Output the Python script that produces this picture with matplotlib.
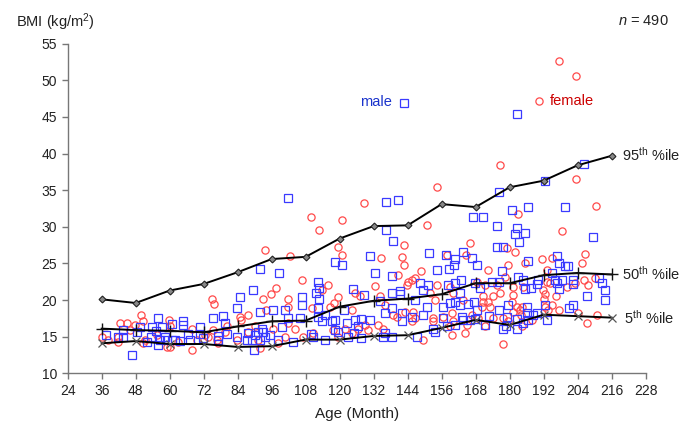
import matplotlib
matplotlib.use("Agg")
import matplotlib.pyplot as plt

plt.rcParams['font.family'] = ['Liberation Sans', 'DejaVu Sans']
plt.rcParams['mathtext.fontset'] = 'custom'
plt.rcParams['mathtext.rm'] = 'Liberation Sans'
plt.rcParams['mathtext.it'] = 'Liberation Sans:italic'

# percentile curves (age in months)
pct_age = [36, 48, 60, 72, 84, 96, 108, 120, 132, 144, 156, 168, 180, 192, 204, 216]
p95 = [20.1, 19.6, 21.3, 22.2, 23.8, 25.6, 25.9, 28.4, 30.1, 30.2, 33.1, 32.7, 35.4, 36.3, 38.4, 39.7]
p50 = [16.1, 15.9, 15.8, 15.6, 16.4, 17.1, 17.2, 19.1, 19.9, 20.2, 20.8, 22.3, 22.3, 23.4, 23.7, 23.5]
p5 = [14.1, 14.4, 14.0, 14.0, 13.6, 13.7, 14.6, 14.6, 15.1, 15.2, 16.2, 17.3, 16.6, 18.0, 17.8, 17.6]

female = [
    (74.8, 20.1), (75.6, 19.4), (49.8, 18.0), (50.7, 17.1), (42.5, 16.8), (44.8, 16.8), (47.8, 16.6),
    (59.8, 17.3), (60.1, 16.5), (67.8, 16.1), (67.8, 13.2), (36.0, 15.0), (38.3, 14.5), (41.6, 14.3),
    (41.9, 15.0), (46.0, 15.9), (50.7, 14.1), (51.3, 14.5), (55.4, 15.2), (59.2, 13.6), (60.1, 13.6),
    (63.0, 14.3), (69.5, 14.5), (73.6, 15.0), (75.4, 15.9), (76.6, 14.5), (76.9, 14.1), (79.5, 15.7),
    (84.8, 17.7), (85.0, 17.3), (83.6, 14.5), (80.1, 16.4), (72.5, 15.2),
    (93.6, 26.9), (119.5, 27.2), (120.7, 26.2), (141.9, 25.9), (134.6, 25.8), (102.5, 26.0), (106.8, 22.8),
    (97.4, 21.7), (95.8, 20.8), (93.1, 20.2), (101.9, 20.1), (101.6, 19.1), (87.8, 18.0), (93.9, 18.7),
    (116.0, 22.1), (113.6, 21.4), (119.5, 20.4), (118.1, 19.6), (116.6, 19.1), (124.2, 18.7), (125.4, 20.9),
    (127.2, 20.5), (132.5, 21.9), (140.7, 23.4), (134.2, 20.5), (136.0, 19.3), (138.9, 18.0), (140.1, 17.7),
    (133.6, 16.6), (135.4, 16.0), (101.9, 16.8), (104.2, 16.1), (100.7, 15.0), (98.3, 14.1), (91.3, 14.5),
    (90.1, 16.4), (96.6, 16.1), (110.7, 15.5), (117.8, 15.9), (121.9, 16.1), (119.5, 15.0), (124.2, 15.5),
    (128.9, 16.6), (126.6, 16.0), (107.2, 15.0), (130.1, 15.9), (110.1, 18.9), (91.9, 13.5), (87.8, 15.7),
    (109.8, 31.3), (154.5, 35.4), (128.7, 33.2), (120.7, 30.9), (112.7, 29.5), (150.7, 30.3),
    (142.7, 27.5), (142.7, 24.8), (166.0, 27.8), (164.6, 26.1), (157.8, 26.2), (148.6, 23.9), (146.6, 23.0),
    (145.4, 22.7), (144.2, 22.5), (143.7, 22.1), (172.5, 24.1), (179.5, 24.8), (181.9, 26.5), (179.0, 27.1),
    (178.4, 23.2), (168.4, 22.5), (171.3, 22.1), (175.4, 22.1), (176.6, 20.9), (174.2, 20.5), (181.3, 21.8),
    (181.3, 20.7), (184.8, 21.8), (154.2, 22.1), (153.7, 20.0), (151.9, 20.9), (158.9, 21.8), (160.1, 20.9),
    (163.7, 20.0), (170.5, 20.5), (170.7, 19.8), (172.5, 19.8), (173.1, 19.0), (170.1, 19.1), (180.7, 19.8),
    (182.5, 19.1), (181.3, 18.4), (183.7, 18.6), (183.9, 18.0), (143.1, 18.4), (146.0, 18.4), (146.6, 17.5),
    (153.1, 17.5), (153.1, 17.1), (156.6, 17.7), (159.5, 18.2), (160.1, 17.1), (166.6, 18.0), (164.8, 16.6),
    (168.9, 17.5), (159.0, 16.4), (159.5, 15.2), (149.5, 14.6), (164.2, 15.5), (171.3, 16.4), (177.5, 14.0),
    (174.2, 17.5), (177.8, 17.5), (179.5, 17.1), (145.4, 17.1),
    (198.4, 29.4), (206.6, 26.3), (205.4, 25.1), (185.4, 25.0), (191.3, 25.6), (194.8, 25.8), (193.1, 24.1),
    (193.1, 22.5), (194.2, 22.3), (200.1, 21.8), (203.1, 22.3), (206.2, 22.7), (207.8, 22.1), (210.1, 23.0),
    (191.9, 21.4), (192.5, 20.8), (192.1, 20.2), (196.4, 20.5), (194.8, 19.3), (192.5, 19.1), (184.2, 19.1),
    (197.5, 18.6), (193.7, 18.7), (204.2, 18.2), (210.7, 18.0), (207.2, 16.8), (184.2, 16.4), (187.8, 17.3),
    (197.5, 52.7), (203.5, 50.6), (176.6, 38.4), (203.4, 36.5), (210.5, 32.8), (183.1, 31.8),
]

male = [
    (84.8, 20.4), (83.6, 18.9), (56.0, 17.6), (60.7, 16.7), (64.8, 17.2), (64.8, 16.6), (75.4, 17.6),
    (78.7, 17.8), (79.5, 16.8), (53.6, 16.3), (49.5, 16.3), (43.6, 15.9), (37.5, 15.2), (41.9, 15.0),
    (43.6, 15.0), (48.3, 15.7), (55.2, 15.8), (57.2, 16.3), (58.3, 15.0), (58.9, 14.5), (56.6, 14.6),
    (51.9, 14.3), (53.4, 15.0), (60.7, 14.5), (61.9, 14.5), (63.6, 14.4), (66.6, 15.3), (67.2, 14.5),
    (70.7, 15.3), (71.9, 14.8), (77.2, 15.1), (77.2, 14.5), (80.1, 15.4), (83.6, 14.9), (87.2, 14.5),
    (46.8, 12.5), (56.0, 13.9), (70.7, 16.3),
    (138.9, 28.0), (130.7, 26.0), (118.4, 25.2), (120.7, 24.8), (91.9, 24.2), (98.7, 23.7), (132.5, 23.7),
    (138.4, 23.3), (112.5, 22.4), (112.7, 21.7), (111.5, 20.9), (89.5, 21.4), (106.8, 20.4), (112.7, 20.1),
    (124.8, 21.5), (128.7, 20.7), (138.4, 21.0), (141.3, 21.2), (141.3, 20.8), (106.8, 19.3), (91.9, 18.4),
    (96.6, 18.6), (100.7, 18.6), (101.9, 17.6), (106.0, 17.6), (112.5, 18.9), (112.2, 17.7), (114.8, 18.0),
    (121.6, 18.6), (113.9, 17.1), (117.2, 17.2), (118.4, 17.3), (122.5, 16.9), (125.4, 17.3), (127.5, 17.4),
    (130.7, 17.3), (134.2, 19.9), (136.0, 18.3), (138.4, 18.9), (141.9, 18.2), (126.6, 16.5), (99.5, 16.3),
    (92.5, 16.1), (87.8, 15.5), (90.1, 15.2), (91.3, 15.6), (93.1, 15.7), (93.6, 15.0), (95.4, 15.2),
    (88.9, 14.5), (91.9, 14.5), (89.9, 13.2), (98.3, 14.5), (103.6, 14.3), (109.9, 15.4), (110.7, 14.9),
    (114.8, 14.5), (118.4, 15.9), (119.5, 15.7), (123.1, 14.9), (127.7, 14.8), (125.2, 15.5), (136.0, 15.5),
    (138.4, 15.0), (135.4, 15.0), (141.9, 17.1),
    (101.7, 33.9), (136.4, 33.4), (140.5, 33.7), (136.4, 29.5), (182.5, 45.4), (176.4, 34.8), (192.5, 36.2),
    (206.4, 38.6), (199.5, 32.7), (186.4, 32.7), (180.7, 32.3), (166.9, 31.3), (170.5, 31.3), (175.4, 30.1),
    (182.5, 29.9),
    (181.9, 29.0), (185.4, 29.1), (183.4, 27.9), (151.7, 26.4), (160.7, 25.6), (160.4, 24.8), (157.5, 26.2),
    (163.4, 26.5), (166.6, 25.7), (168.6, 24.8), (154.5, 24.1), (158.7, 24.2), (175.4, 27.2), (177.5, 27.3),
    (186.6, 25.3), (177.2, 23.9), (183.1, 23.2), (184.8, 22.7), (148.4, 22.3), (151.3, 22.1), (149.5, 21.4),
    (158.4, 22.1), (160.7, 22.3), (162.7, 22.7), (162.5, 20.9), (167.8, 22.3), (169.5, 21.6), (173.7, 22.5),
    (176.4, 22.4), (185.4, 21.5), (146.6, 20.0), (150.7, 19.1), (156.6, 19.1), (159.0, 19.6), (160.7, 19.8),
    (162.5, 19.3), (165.4, 19.5), (168.6, 18.6), (167.4, 19.8), (176.4, 18.7), (179.5, 19.3), (186.0, 19.1),
    (186.0, 18.2), (145.4, 17.7), (149.5, 18.0), (156.6, 17.5), (163.1, 17.7), (163.7, 17.3), (167.8, 17.4),
    (172.8, 17.8), (178.9, 17.7), (182.5, 17.4), (153.1, 16.1), (153.7, 15.7), (157.8, 16.4), (160.7, 16.6),
    (166.0, 17.3), (171.3, 16.6), (177.8, 16.1), (178.7, 16.5), (182.5, 16.0), (184.8, 16.8), (147.4, 15.0),
    (186.6, 17.3),
    (209.5, 28.6), (196.6, 26.0), (197.5, 25.0), (199.5, 24.6), (200.7, 24.7), (194.8, 23.7), (190.1, 22.7),
    (189.5, 22.2), (196.0, 22.7), (198.4, 22.7), (196.6, 22.3), (202.5, 22.8), (202.5, 22.2), (211.6, 23.0),
    (212.5, 22.3), (213.7, 21.4), (213.7, 20.0), (207.2, 20.5), (197.5, 21.5), (187.4, 21.6), (192.5, 19.3),
    (202.2, 19.3), (201.1, 18.9), (188.4, 18.0), (189.5, 18.2), (193.1, 17.3),
]

x_ticks = list(range(24, 229, 12))
y_ticks = list(range(10, 56, 5))

blue = '#3a3aff'
red = '#ff4a4a'

fig = plt.figure(figsize=(6.88, 4.22), dpi=100)
ax = fig.add_axes([0.0984, 0.1154, 0.84, 0.781])

ax.plot([a for a, b in female], [b for a, b in female], 'o', ls='none', ms=5.2,
        mfc='none', mec=red, mew=0.9, zorder=2)
ax.plot([a for a, b in male], [b for a, b in male], 's', ls='none', ms=5.2,
        mfc='none', mec=blue, mew=0.9, zorder=2)

ax.plot(pct_age, p95, '-', color='black', lw=1.4, marker='D', ms=3.5,
        mfc='#888888', mec='#222222', mew=0.8, zorder=3)
ax.plot(pct_age, p50, '-', color='black', lw=1.4, marker='+', ms=8,
        mec='#111111', mew=1.0, zorder=3)
ax.plot(pct_age, p5, '-', color='black', lw=1.4, marker='x', ms=6,
        mec='#555555', mew=0.9, zorder=3)

ax.set_xlim(24, 228)
ax.set_ylim(10, 55)
ax.set_xticks(x_ticks)
ax.set_yticks(y_ticks)
for s in ['top', 'right']:
    ax.spines[s].set_visible(False)
for s in ['left', 'bottom']:
    ax.spines[s].set_color('#777777')
    ax.spines[s].set_linewidth(1.0)
ax.tick_params(direction='out', length=4, width=1, color='#777777',
               labelsize=10, labelcolor='#222222')

ax.set_xlabel('Age (Month)', fontsize=11, color='#222222', labelpad=7)

fig.text(16 / 688, 1 - 22 / 422, 'BMI (kg/m$^2$)', fontsize=10.5, va='center', ha='left', color='#222222')
fig.text(669 / 688, 1 - 21 / 422, '$\\it{n}$ = 490', fontsize=10.5, va='center', ha='right', color='#222222')

# percentile labels
ax.text(219.5, 39.8, '95$^{\\mathrm{th}}$ %ile', fontsize=10.5, va='center', ha='left', color='#222222')
ax.text(219.5, 23.6, '50$^{\\mathrm{th}}$ %ile', fontsize=10.5, va='center', ha='left', color='#222222')
ax.text(220.5, 17.6, '5$^{\\mathrm{th}}$ %ile', fontsize=10.5, va='center', ha='left', color='#222222')

# legend-like labels
ax.plot([142.8], [46.9], 's', ms=5.2, mfc='none', mec=blue, mew=0.9)
ax.text(138.6, 47.0, 'male', fontsize=10.5, color='#1a33cc', ha='right', va='center')
ax.plot([190.5], [47.2], 'o', ms=5.2, mfc='none', mec=red, mew=0.9)
ax.text(194.2, 47.2, 'female', fontsize=10.5, color='#cc0000', ha='left', va='center')

fig.savefig('out.png', dpi=100)
